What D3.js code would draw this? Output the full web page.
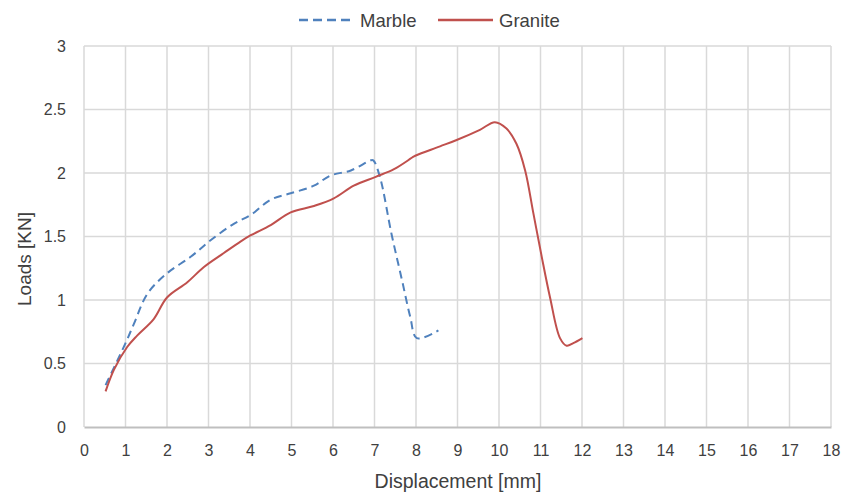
<!DOCTYPE html>
<html>
<head>
<meta charset="utf-8">
<script src="https://cdnjs.cloudflare.com/ajax/libs/d3/7.8.5/d3.min.js"></script>
<style>
  body { margin: 0; background: #fff; }
</style>
</head>
<body>
<div id="chart"></div>
<script>
// Marble (dashed) and Granite (solid) load-displacement curves
const marbleX = [0.52, 1.0, 1.2, 1.53, 2.0, 2.57, 3.05, 3.61, 4.02, 4.5, 4.98, 5.54, 5.94, 6.43, 6.91, 6.97, 7.13, 7.41, 7.66, 7.86, 8.02, 8.54];
const marbleY = [0.33, 0.66, 0.81, 1.05, 1.21, 1.34, 1.47, 1.60, 1.67, 1.79, 1.84, 1.90, 1.98, 2.02, 2.10, 2.10, 1.97, 1.52, 1.16, 0.87, 0.70, 0.76];

const graniteX = [0.52, 0.72, 1.04, 1.28, 1.68, 2.0, 2.49, 2.89, 3.37, 3.77, 4.02, 4.5, 4.98, 5.54, 6.02, 6.5, 7.03, 7.47, 7.95, 8.01, 8.58, 8.98, 9.54, 9.9, 10.18, 10.42, 10.63, 10.83, 11.03, 11.23, 11.47, 11.63, 11.79, 12.01];
const graniteY = [0.28, 0.45, 0.63, 0.72, 0.85, 1.02, 1.14, 1.26, 1.37, 1.46, 1.51, 1.59, 1.69, 1.74, 1.80, 1.90, 1.97, 2.03, 2.13, 2.14, 2.21, 2.26, 2.34, 2.40, 2.35, 2.23, 2.02, 1.68, 1.34, 1.02, 0.70, 0.64, 0.66, 0.70];

const xTicks = d3.range(0, 19, 1);
const yTicks = [0, 0.5, 1, 1.5, 2, 2.5, 3];

const seriesNames = ["Marble", "Granite"];
const colors = ["#4f81bd", "#c0504d"];

const svgWidth = 843, svgHeight = 494;
const margin = { top: 46, right: 12, bottom: 67, left: 84 };
const width = svgWidth - margin.left - margin.right;
const height = svgHeight - margin.top - margin.bottom;
const font = "Liberation Sans, Arial, sans-serif";

const svg = d3.select("#chart").append("svg")
  .attr("width", svgWidth)
  .attr("height", svgHeight)
  .style("font-family", font);

const chart = svg.append("g")
  .attr("transform", `translate(${margin.left},${margin.top})`);

const x = d3.scaleLinear().domain([0, 18]).range([0, width]);
const y = d3.scaleLinear().domain([0, 3]).range([height, 0]);

// grid
chart.append("g")
  .selectAll("line")
  .data(xTicks)
  .join("line")
  .attr("x1", d => x(d)).attr("x2", d => x(d))
  .attr("y1", 0).attr("y2", height)
  .attr("stroke", "#d9d9d9").attr("stroke-width", 1.5);

chart.append("g")
  .selectAll("line")
  .data(yTicks.slice(1))
  .join("line")
  .attr("x1", 0).attr("x2", width)
  .attr("y1", d => y(d)).attr("y2", d => y(d))
  .attr("stroke", "#d9d9d9").attr("stroke-width", 1.5);

// axes
const xAxis = chart.append("g")
  .attr("transform", `translate(0,${height})`)
  .call(d3.axisBottom(x).tickValues(xTicks).tickFormat(d3.format("d")).tickSize(0).tickPadding(18));
xAxis.select(".domain").attr("stroke", "#bfbfbf").attr("stroke-width", 2);
xAxis.selectAll("text").style("font-size", "16px").style("fill", "#404040").style("font-family", font);

const yAxis = chart.append("g")
  .call(d3.axisLeft(y).tickValues(yTicks).tickFormat(d => d).tickSize(0).tickPadding(18));
yAxis.select(".domain").remove();
yAxis.selectAll("text").style("font-size", "16px").style("fill", "#404040").style("font-family", font);

// lines
const line = d3.line().x(d => x(d[0])).y(d => y(d[1])).curve(d3.curveCatmullRom);

chart.append("path")
  .datum(marbleX.map((v, i) => [v, marbleY[i]]))
  .attr("fill", "none")
  .attr("stroke", colors[0])
  .attr("stroke-width", 2)
  .attr("stroke-dasharray", "8,5")
  .attr("d", line);

chart.append("path")
  .datum(graniteX.map((v, i) => [v, graniteY[i]]))
  .attr("fill", "none")
  .attr("stroke", colors[1])
  .attr("stroke-width", 2)
  .attr("d", line);

// axis titles
svg.append("text")
  .attr("x", 458)
  .attr("y", 488)
  .attr("text-anchor", "middle")
  .style("font-size", "19.5px")
  .style("fill", "#404040")
  .text("Displacement [mm]");

svg.append("text")
  .attr("transform", "translate(31,259) rotate(-90)")
  .attr("text-anchor", "middle")
  .style("font-size", "19px")
  .style("fill", "#404040")
  .text("Loads [KN]");

// legend
const legend = svg.append("g").attr("transform", "translate(299,20)");
const legendPos = [0, 139];
seriesNames.forEach((name, i) => {
  const row = legend.append("g").attr("transform", `translate(${legendPos[i]},0)`);
  row.append("line")
    .attr("x1", 0).attr("x2", i === 0 ? 51 : 55).attr("y1", 0).attr("y2", 0)
    .attr("stroke", colors[i]).attr("stroke-width", 2.5)
    .attr("stroke-dasharray", i === 0 ? "9,5" : null);
  row.append("text")
    .attr("x", i === 0 ? 61 : 61).attr("y", 7)
    .style("font-size", "18.5px")
    .style("fill", "#404040")
    .text(name);
});
</script>
</body>
</html>
